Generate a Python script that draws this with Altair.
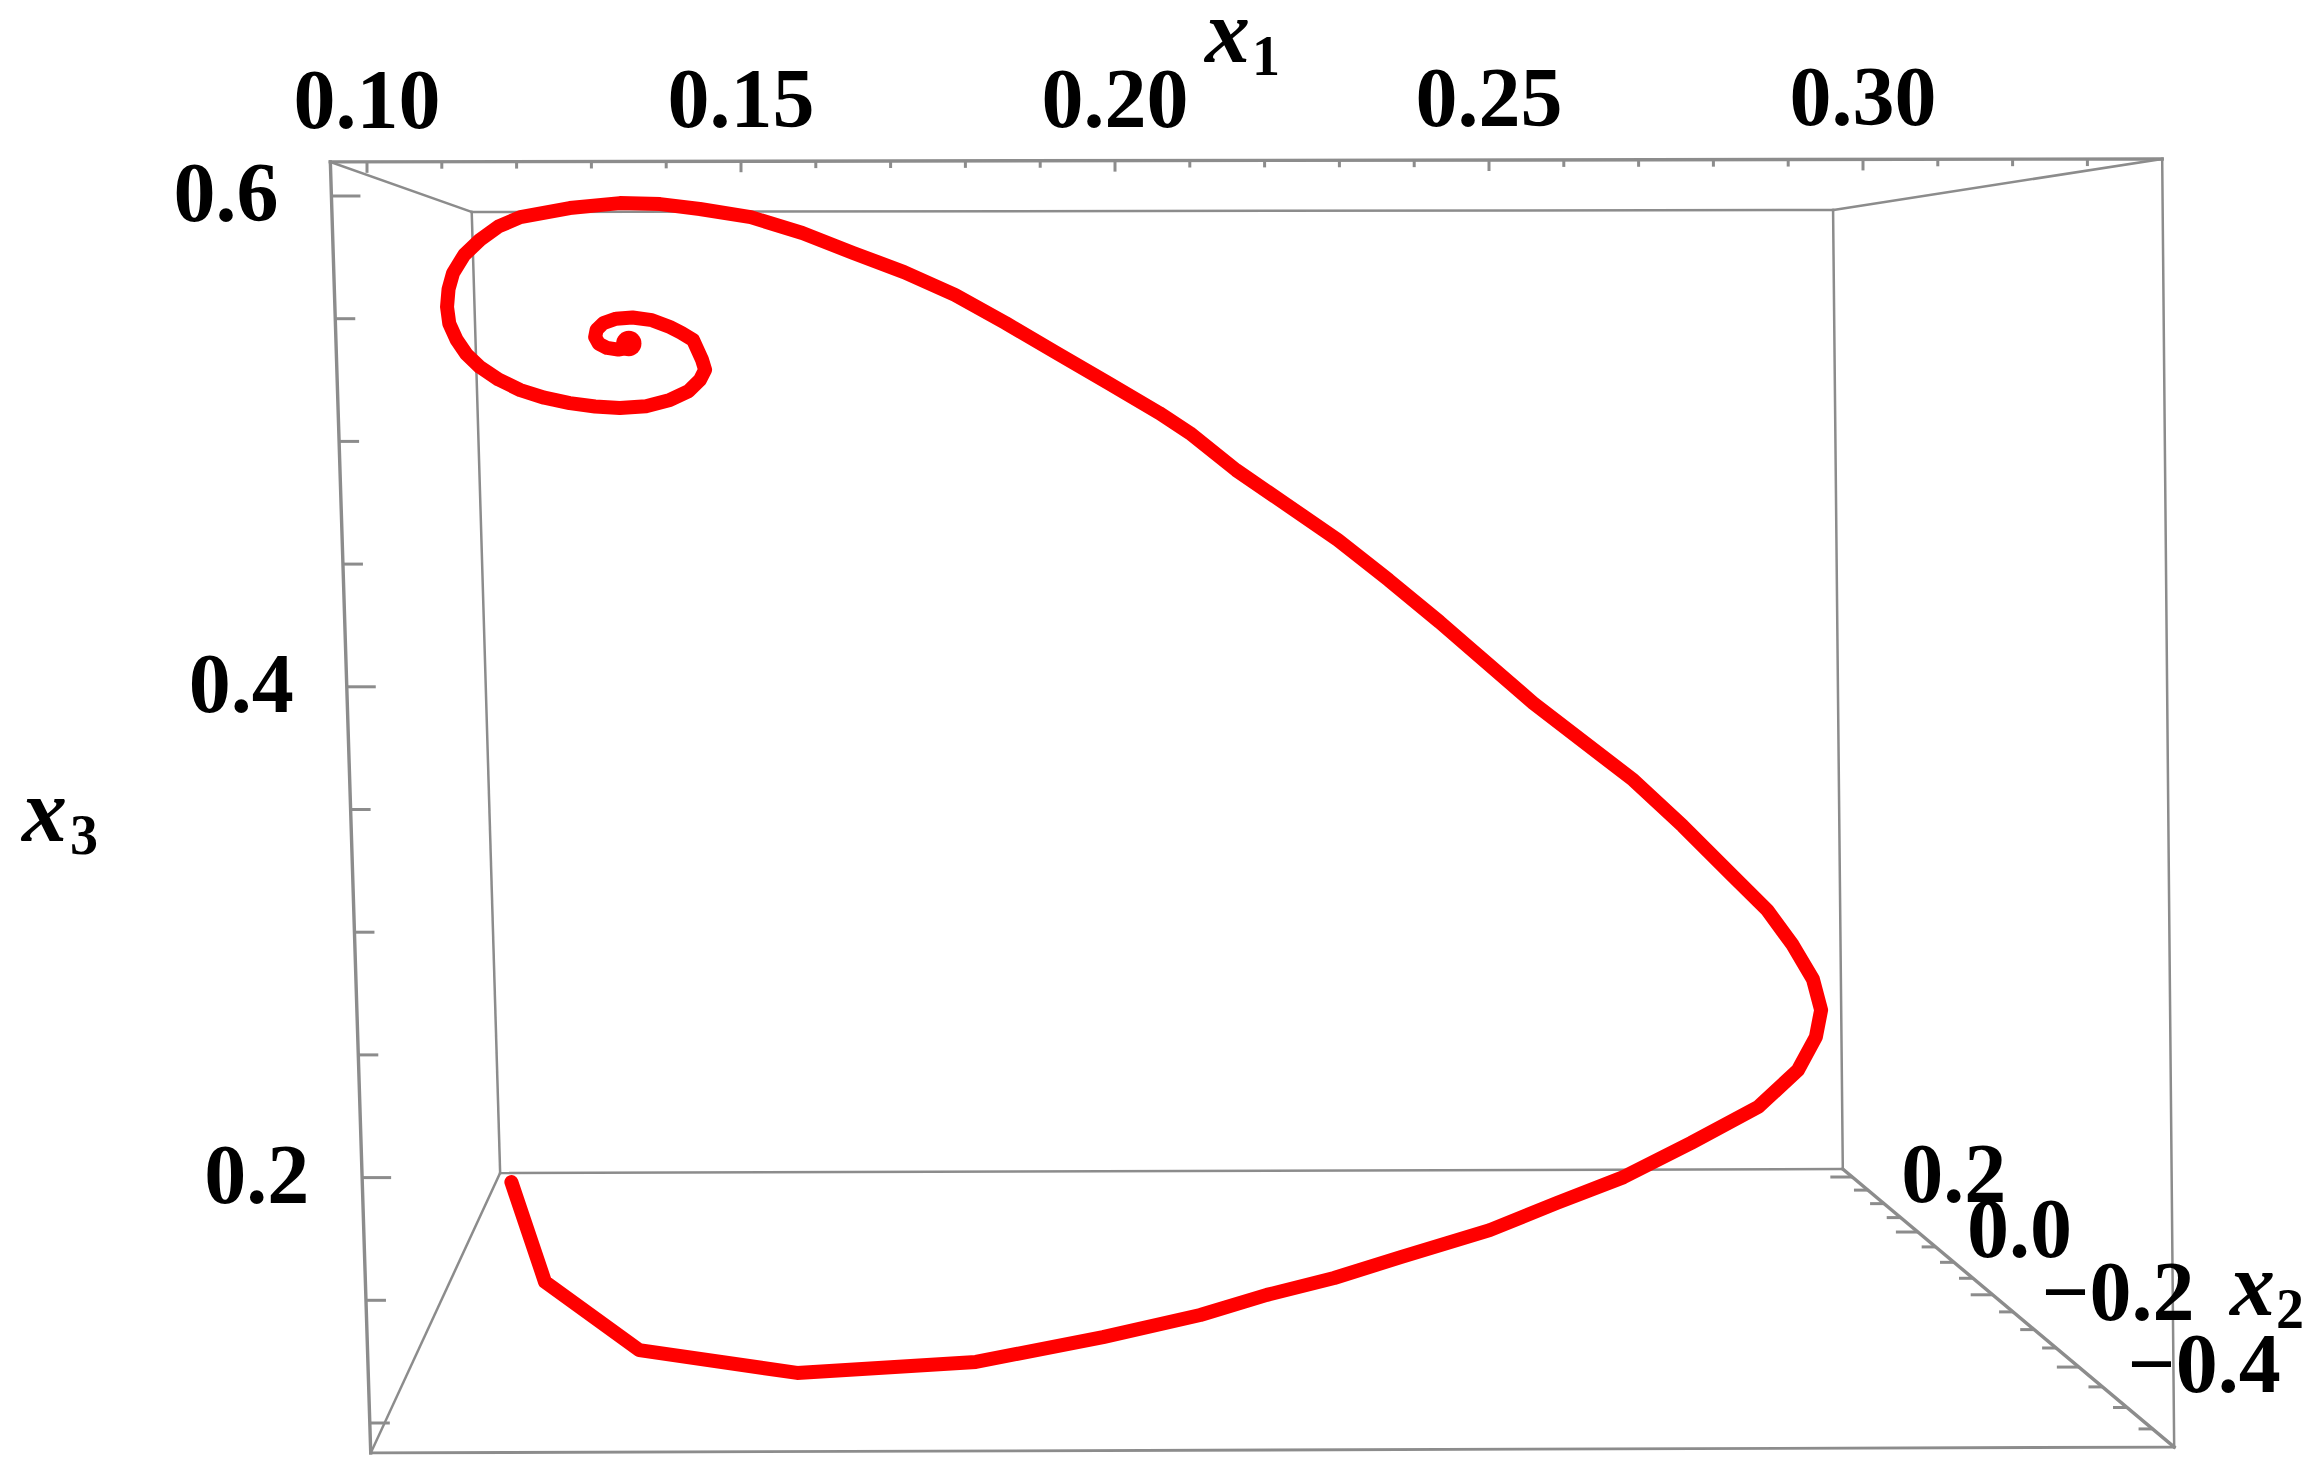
import altair as alt
import pandas as pd

# ---------------- data ----------------
# trajectory, expressed in the units of the front-face scales (x1 across, x3 up)
curve_x1 = [0.1193, 0.1238, 0.1364, 0.1575, 0.1814, 0.1984, 0.2114, 0.2203, 0.2293, 0.2382,
            0.2501, 0.2591, 0.2680, 0.2770, 0.2860, 0.2913, 0.2937, 0.2944, 0.2933, 0.2906,
            0.2872, 0.2826, 0.2759, 0.2693, 0.2559, 0.2471, 0.2434, 0.2366, 0.2298, 0.2230,
            0.2162, 0.2100, 0.2059, 0.1991, 0.1922, 0.1854, 0.1786, 0.1718, 0.1650, 0.1582,
            0.1513, 0.1445, 0.1392, 0.1338, 0.1271, 0.1205, 0.1176, 0.1151, 0.1130, 0.1115,
            0.1109, 0.1107, 0.1110, 0.1120, 0.1133, 0.1151, 0.1176, 0.1205, 0.1237, 0.1271,
            0.1305, 0.1338, 0.1373, 0.1405, 0.1430, 0.1445, 0.1452, 0.1448, 0.1436, 0.1420,
            0.1405, 0.1381, 0.1355, 0.1333, 0.1316, 0.1307, 0.1305, 0.1310, 0.1321, 0.1336,
            0.1347, 0.1353]
curve_x3 = [0.1982, 0.1575, 0.1297, 0.1204, 0.1249, 0.1350, 0.1440, 0.1522, 0.1591, 0.1676,
            0.1786, 0.1897, 0.2002, 0.2141, 0.2288, 0.2438, 0.2573, 0.2683, 0.2809, 0.2948,
            0.3090, 0.3229, 0.3433, 0.3620, 0.3934, 0.4166, 0.4264, 0.4435, 0.4598, 0.4741,
            0.4883, 0.5034, 0.5116, 0.5238, 0.5360, 0.5482, 0.5597, 0.5690, 0.5768, 0.5849,
            0.5914, 0.5947, 0.5967, 0.5971, 0.5951, 0.5914, 0.5876, 0.5821, 0.5760, 0.5686,
            0.5620, 0.5548, 0.5480, 0.5413, 0.5355, 0.5303, 0.5252, 0.5209, 0.5178, 0.5156,
            0.5142, 0.5136, 0.5143, 0.5169, 0.5205, 0.5250, 0.5292, 0.5332, 0.5413, 0.5443,
            0.5466, 0.5494, 0.5505, 0.5500, 0.5482, 0.5455, 0.5425, 0.5398, 0.5381, 0.5374,
            0.5380, 0.5394]
end_x1 = [0.1350]
end_x3 = [0.5399]

# projected corners of the bounding box (front face, back face)
front_x1 = [0.0951, 0.3400, 0.3416, 0.1005]   # TL, TR, BR, BL
front_x3 = [0.6139, 0.6151, 0.0902, 0.0878]
back_x1 = [0.1140, 0.2960, 0.2973, 0.1178]
back_x3 = [0.5935, 0.5943, 0.2035, 0.2019]

# ticks and labels
x1_ticks = [0.10, 0.11, 0.12, 0.13, 0.14, 0.15, 0.16, 0.17, 0.18, 0.19, 0.20, 0.21,
            0.22, 0.23, 0.24, 0.25, 0.26, 0.27, 0.28, 0.29, 0.30, 0.31, 0.32, 0.33]
x1_label_vals = [0.10, 0.15, 0.20, 0.25, 0.30]
x1_labels = ["0.10", "0.15", "0.20", "0.25", "0.30"]

x3_ticks = [0.10, 0.15, 0.20, 0.25, 0.30, 0.35, 0.40, 0.45, 0.50, 0.55, 0.60]
x3_label_vals = [0.2, 0.4, 0.6]
x3_labels = ["0.2", "0.4", "0.6"]

x2_ticks = [0.20, 0.15, 0.10, 0.05, 0.00, -0.05, -0.10, -0.15, -0.20, -0.25, -0.30,
            -0.35, -0.40, -0.45, -0.50, -0.55]
x2_label_vals = [0.2, 0.0, -0.2, -0.4]
x2_labels = ["0.2", "0.0", "\u22120.2", "\u22120.4"]

# ---------------- scales (plot area = whole canvas) ----------------
W, H = 2304, 1464
XDOM = [0.052005, 0.360027]
YDOM = [0.080033, 0.676610]
PX_X = W / (XDOM[1] - XDOM[0])   # pixels per x1 unit
PX_Y = H / (YDOM[1] - YDOM[0])   # pixels per x3 unit
xs = alt.Scale(domain=XDOM, nice=False, zero=False)
ys = alt.Scale(domain=YDOM, nice=False, zero=False)

GRAY = "#8c8c8c"
FONT = "Liberation Serif"
LBL = 84


def X(f="x"):
    return alt.X(f + ":Q", scale=xs, axis=None)


def Y(f="y"):
    return alt.Y(f + ":Q", scale=ys, axis=None)


TL, TR, BR, BL = 0, 1, 2, 3


def left_edge(v):
    t = (front_x3[TL] - v) / (front_x3[TL] - front_x3[BL])
    return front_x1[TL] + t * (front_x1[BL] - front_x1[TL])


def top_edge(v):
    t = (v - front_x1[TL]) / (front_x1[TR] - front_x1[TL])
    return front_x3[TL] + t * (front_x3[TR] - front_x3[TL])


def x2_point(v):
    # position along the receding x2 edge (back BR -> front BR), with perspective
    u = 0.2 - v
    t = (8 + 258 * u / (1 - 0.309 * u)) / 278
    return (back_x1[BR] + t * (front_x1[BR] - back_x1[BR]),
            back_x3[BR] + t * (front_x3[BR] - back_x3[BR]))


# ---------------- box edges ----------------
edges = []
for a, b in [(TL, TR), (TR, BR), (BR, BL), (BL, TL)]:
    edges.append((back_x1[a], back_x3[a], back_x1[b], back_x3[b], 2.5))
for a, b, w in [(TL, TR, 3.4), (TR, BR, 2.5), (BR, BL, 2.8), (BL, TL, 3.4)]:
    edges.append((front_x1[a], front_x3[a], front_x1[b], front_x3[b], w))
for c in [TL, TR, BL]:
    edges.append((front_x1[c], front_x3[c], back_x1[c], back_x3[c], 2.5))
edges.append((back_x1[BR], back_x3[BR], front_x1[BR], front_x3[BR], 3.4))
edge_df = pd.DataFrame(edges, columns=["x", "y", "x2", "y2", "w"])

edge_layer = alt.Chart(edge_df).mark_rule(color=GRAY, strokeCap="square").encode(
    x=X(), y=Y(), x2="x2:Q", y2="y2:Q",
    strokeWidth=alt.StrokeWidth("w:Q", scale=None))

# ---------------- ticks ----------------
tick_rows = []
for v in x1_ticks:
    major = abs(v * 20 - round(v * 20)) < 1e-6
    y0 = top_edge(v)
    tick_rows.append((v, y0, v, y0 - (11 if major else 7) / PX_Y))
for v in x3_ticks:
    major = abs(v * 5 - round(v * 5)) < 1e-6
    x0 = left_edge(v)
    tick_rows.append((x0, v, x0 + (29 if major else 20) / PX_X, v))
for v in x2_ticks:
    major = abs(v * 5 - round(v * 5)) < 1e-6
    px, py = x2_point(v)
    tick_rows.append((px, py, px - (22 if major else 14) / PX_X, py))
tick_df = pd.DataFrame(tick_rows, columns=["x", "y", "x2", "y2"])
tick_layer = alt.Chart(tick_df).mark_rule(color=GRAY, strokeWidth=3).encode(
    x=X(), y=Y(), x2="x2:Q", y2="y2:Q")

# ---------------- tick labels ----------------
top_df = pd.DataFrame({"x": x1_label_vals, "y": [top_edge(v) for v in x1_label_vals],
                       "t": x1_labels})
top_lbl = alt.Chart(top_df).mark_text(font=FONT, fontWeight="bold", fontSize=LBL,
                                      align="center", baseline="alphabetic", dy=-34,
                                      color="black").encode(x=X(), y=Y(), text="t:N")

left_df = pd.DataFrame({"x": [left_edge(v) for v in x3_label_vals], "y": x3_label_vals,
                        "t": x3_labels})
left_lbl = alt.Chart(left_df).mark_text(font=FONT, fontWeight="bold", fontSize=LBL,
                                        align="right", baseline="middle", dx=-53,
                                        color="black").encode(x=X(), y=Y(), text="t:N")

x2_pts = [x2_point(v) for v in x2_label_vals]
x2_df = pd.DataFrame({"x": [p[0] for p in x2_pts], "y": [p[1] for p in x2_pts],
                      "t": x2_labels})
x2_lbl = alt.Chart(x2_df).mark_text(font=FONT, fontWeight="bold", fontSize=LBL,
                                    align="left", baseline="middle", dx=49,
                                    color="black").encode(x=X(), y=Y(), text="t:N")

# ---------------- axis titles ----------------
def title(var, sub, px, py, spx, spy):
    a = alt.Chart(pd.DataFrame({"t": [var]})).mark_text(
        font=FONT, fontWeight="bold", fontStyle="italic", fontSize=90, align="left",
        baseline="alphabetic", color="black").encode(
        x=alt.value(px), y=alt.value(py), text="t:N")
    b = alt.Chart(pd.DataFrame({"t": [sub]})).mark_text(
        font=FONT, fontWeight="bold", fontSize=56, align="left",
        baseline="alphabetic", color="black").encode(
        x=alt.value(spx), y=alt.value(spy), text="t:N")
    return [a, b]


titles = (title("x", "1", 1197, 54, 1244, 67)
          + title("x", "3", 14, 833, 62, 846)
          + title("x", "2", 2222, 1307, 2268, 1320))

# ---------------- trajectory ----------------
curve_df = pd.DataFrame({"i": list(range(len(curve_x1))), "x": curve_x1, "y": curve_x3})
curve = alt.Chart(curve_df).mark_line(color="#ff0000", strokeWidth=14, strokeCap="round",
                                      strokeJoin="round").encode(
    x=X(), y=Y(), order="i:Q")
end_df = pd.DataFrame({"x": end_x1, "y": end_x3})
end_dot = alt.Chart(end_df).mark_point(filled=True, shape="circle", color="#ff0000",
                                       opacity=1, size=640).encode(x=X(), y=Y())

chart = alt.layer(edge_layer, tick_layer, top_lbl, left_lbl, x2_lbl, *titles,
                  curve, end_dot).properties(
    width=W, height=H, padding=0, background="white",
    autosize=alt.AutoSizeParams(type="none")
).configure_view(strokeWidth=0)

chart.save("out.html", embed_options={"renderer": "svg", "actions": False})
